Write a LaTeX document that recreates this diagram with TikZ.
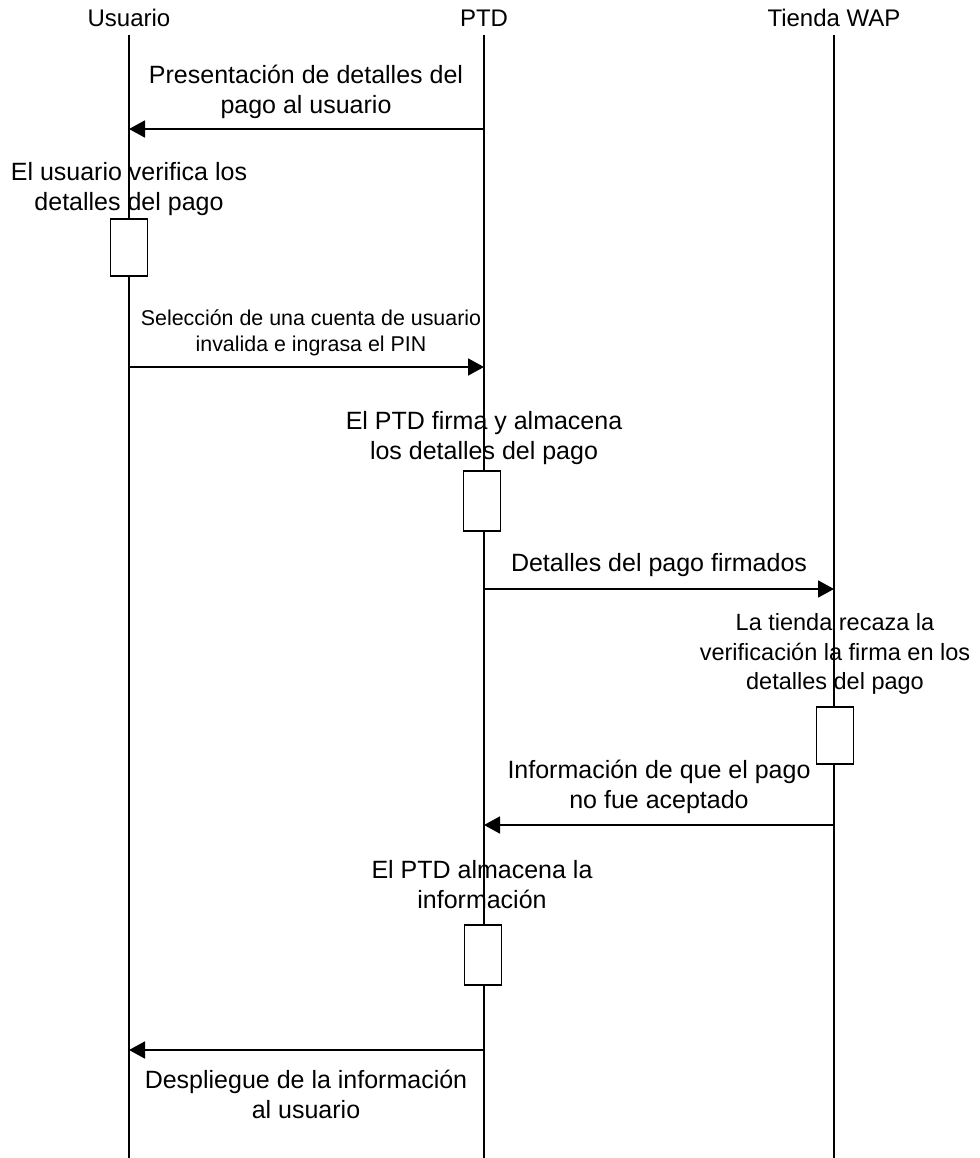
\documentclass[tikz,border=0pt]{standalone}
\usepackage{fontspec}
\setmainfont{Liberation Sans}
\usetikzlibrary{arrows.meta}
\begin{document}
\begin{tikzpicture}[x=1pt,y=-1pt,
  head/.style={inner sep=0pt,font=\fontsize{24}{30}\selectfont},
  lbl/.style={inner sep=0pt,align=center,font=\fontsize{25}{30}\selectfont},
  small/.style={inner sep=0pt,align=center,font=\fontsize{21.4}{26.5}\selectfont},
  note/.style={inner sep=0pt,align=center,font=\fontsize{23.5}{29.5}\selectfont},
  life/.style={line width=1.8pt},
  msg/.style={line width=1.8pt,-{Triangle[length=16pt,width=17pt]}},
  act/.style={draw,fill=white,line width=1.8pt,minimum width=37pt,inner sep=0pt}]
\useasboundingbox (0,0) rectangle (979,1158);
% participants
\node[head] (u) at (129,18) {Usuario};
\node[head] (p) at (484,18) {PTD};
\node[head] (t) at (834,18) {Tienda WAP};
\coordinate (uTop) at (129,35); \coordinate (uBot) at (129,1158);
\coordinate (pTop) at (484,35); \coordinate (pBot) at (484,1158);
\coordinate (tTop) at (834,35); \coordinate (tBot) at (834,1158);
\draw[life] (uTop) -- (uBot);
\draw[life] (pTop) -- (pBot);
\draw[life] (tTop) -- (tBot);
% message endpoints on the lifelines
\coordinate (p1) at (484,129); \coordinate (u1) at (129,129);
\coordinate (u3) at (129,367); \coordinate (p3) at (484,367);
\coordinate (p5) at (484,589); \coordinate (t5) at (834,589);
\coordinate (t7) at (834,825); \coordinate (p7) at (484,825);
\coordinate (p9) at (484,1050); \coordinate (u9) at (129,1050);
% messages, notes and activations
\draw[msg] (p1) -- (u1);
\node[lbl] (l1) at (306,92) {Presentación de detalles del\\pago al usuario};
\node[lbl] (l2) at (129,189) {El usuario verifica los\\detalles del pago};
\node[act,minimum height=57pt] (a1) at (129,247.5) {};
\draw[msg] (u3) -- (p3);
\node[small] (l3) at (311,333) {Selección de una cuenta de usuario\\invalida e ingrasa el PIN};
\node[lbl] (l4) at (484,438) {El PTD firma y almacena\\los detalles del pago};
\node[act,minimum height=60pt] (a2) at (482,501) {};
\draw[msg] (p5) -- (t5);
\node[lbl] (l5) at (659,565) {Detalles del pago firmados};
\node[note] (l6) at (835,654) {La tienda recaza la\\verificación la firma en los\\detalles del pago};
\node[act,minimum height=57pt] (a3) at (835,735.5) {};
\draw[msg] (t7) -- (p7);
\node[lbl] (l7) at (659,787) {Información de que el pago\\no fue aceptado};
\node[lbl] (l8) at (482,885) {El PTD almacena la\\información};
\node[act,minimum height=60pt] (a4) at (483,955) {};
\draw[msg] (p9) -- (u9);
\node[lbl] (l9) at (306,1094) {Despliegue de la información\\al usuario};
\end{tikzpicture}
\end{document}
